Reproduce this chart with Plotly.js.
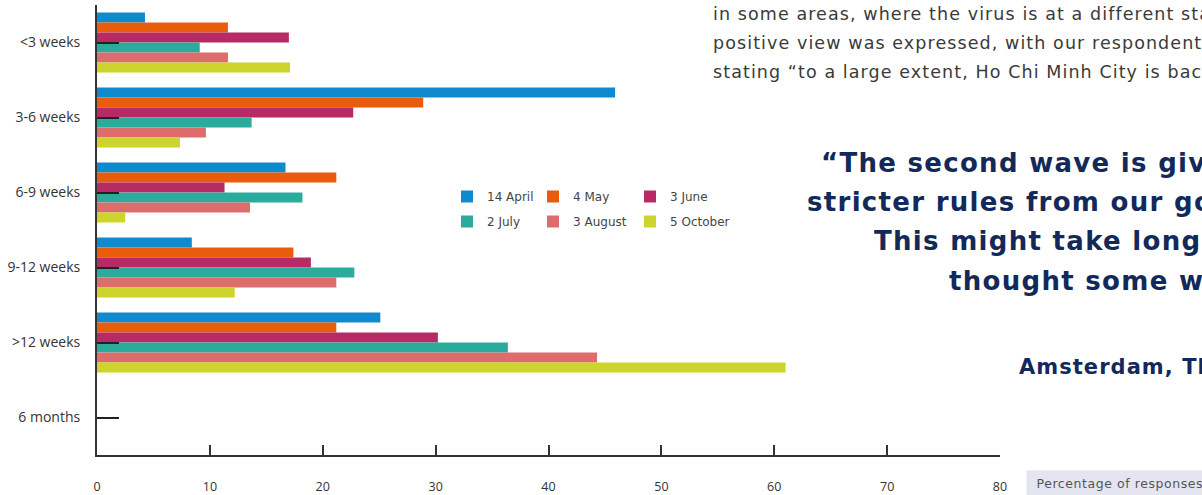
<!DOCTYPE html>
<html><head><meta charset="utf-8">
<script src="https://cdn.plot.ly/plotly-3.0.1.min.js"></script>
<style>
html,body{margin:0;padding:0;background:#fff;overflow:hidden;}
#chart{width:1202px;height:495px;}
.annotation[data-index="0"] text, .annotation[data-index="1"] text, .annotation[data-index="2"] text {letter-spacing: 0.062em;}
.annotation[data-index="3"] text, .annotation[data-index="4"] text, .annotation[data-index="5"] text, .annotation[data-index="6"] text {letter-spacing: 0.05em;}
.annotation[data-index="7"] text {letter-spacing: 0.05em;}
.annotation[data-index="8"] text {letter-spacing: 0.045em;}
</style>
</head><body><div id="chart"></div>
<script>
// Categories (top to bottom)
const categories = ['<3 weeks', '3-6 weeks', '6-9 weeks', '9-12 weeks', '>12 weeks', '6 months'];
const categoryLabels = ['&lt;3 weeks', '3-6 weeks', '6-9 weeks', '9-12 weeks', '&gt;12 weeks', '6 months'];
// Series names
const seriesNames = ['14 April', '4 May', '3 June', '2 July', '3 August', '5 October'];
// Series values (percentage of responses)
const april14 = [4.25, 45.9, 16.7, 8.4, 25.1, 0];
const may4 = [11.6, 28.9, 21.2, 17.4, 21.2, 0];
const june3 = [17.0, 22.7, 11.3, 18.95, 30.2, 0];
const july2 = [9.1, 13.7, 18.2, 22.8, 36.4, 0];
const august3 = [11.6, 9.65, 13.55, 21.2, 44.3, 0];
const october5 = [17.1, 7.35, 2.5, 12.2, 61.0, 0];
// X tick values
const xTickVals = [0, 10, 20, 30, 40, 50, 60, 70, 80];

const seriesValues = [april14, may4, june3, july2, august3, october5];
const colors = ['#0f8bcd', '#e95c0b', '#b62b65', '#2bab9c', '#dd6c6c', '#cdd42b'];
const legendIds = ['legend', 'legend2', 'legend3', 'legend', 'legend2', 'legend3'];

const FONT = 'Open Sans, Lato, sans-serif';
const WIDE = 'DejaVu Sans, Open Sans, sans-serif';
const NAVY = '#12295a';

const traces = seriesNames.map((name, i) => ({
  type: 'bar',
  orientation: 'h',
  name: name,
  y: categories,
  x: seriesValues[i],
  marker: {color: colors[i], line: {width: 0}},
  legend: legendIds[i],
  legendgroup: 'g' + i,
  hoverinfo: 'x+name'
}));

const W = 1202, H = 495, L = 97, R = 202, T = 5, B = 40;
const pw = W - L - R, ph = H - T - B;
function px(x) { return (x - L) / pw; }
function py(y) { return (H - B - y) / ph; }

function legendCfg(xpix) {
  return {
    x: px(xpix), y: py(182), xanchor: 'left', yanchor: 'top',
    orientation: 'v', bgcolor: 'rgba(0,0,0,0)', borderwidth: 0,
    font: {family: WIDE, size: 12, color: '#444'},
    traceorder: 'grouped', tracegroupgap: 6, itemclick: false, itemdoubleclick: false
  };
}

const bodyLines = [
  ['in some areas, where the virus is at a different stage, a more', 14],
  ['positive view was expressed, with our respondent in Vietnam', 43],
  ['stating “to a large extent, Ho Chi Minh City is back to normal”.', 72]
];
const quoteLines = [
  ['“The second wave is giving us', 820, 163],
  ['stricter rules from our government.', 806, 202],
  ['This might take longer than we', 873, 241],
  ['thought some weeks ago.”', 948, 281]
];

const annotations = [];
bodyLines.forEach(l => annotations.push({
  xref: 'paper', yref: 'paper', x: px(712), y: py(l[1]), xanchor: 'left', yanchor: 'middle',
  width: 800, align: 'left', borderpad: 0,
  text: l[0], showarrow: false, font: {family: WIDE, size: 17.5, color: '#3a3a3a'}
}));
quoteLines.forEach(l => annotations.push({
  xref: 'paper', yref: 'paper', x: px(l[1]), y: py(l[2]), xanchor: 'left', yanchor: 'middle',
  width: 800, align: 'left', borderpad: 0,
  text: '<b>' + l[0] + '</b>', showarrow: false, font: {family: WIDE, size: 26, color: NAVY}
}));
annotations.push({
  xref: 'paper', yref: 'paper', x: px(1018), y: py(367), xanchor: 'left', yanchor: 'middle',
  width: 600, align: 'left', borderpad: 0,
  text: '<b>Amsterdam, The Netherlands</b>', showarrow: false, font: {family: WIDE, size: 21, color: NAVY}
});
annotations.push({
  xref: 'paper', yref: 'paper', x: px(1026), y: py(483), xanchor: 'left', yanchor: 'middle',
  text: '\u00a0Percentage of responses', showarrow: false, bgcolor: '#e4e5f0', borderpad: 5,
  width: 230, align: 'left',
  font: {family: WIDE, size: 12.5, color: '#555'}
});

const layout = {
  width: W, height: H,
  margin: {l: L, r: R, t: T, b: B, pad: 0},
  paper_bgcolor: '#fff', plot_bgcolor: '#fff',
  barmode: 'group', bargap: 0.2, bargroupgap: 0,
  font: {family: FONT, color: '#333'},
  xaxis: {
    range: [0, 80], tickmode: 'array', tickvals: xTickVals,
    ticks: 'inside', ticklen: 10, tickwidth: 1.5, tickcolor: '#333',
    showline: true, linecolor: '#333', linewidth: 2,
    showgrid: false, zeroline: false, ticklabelstandoff: 19,
    tickfont: {family: FONT, size: 12.5, color: '#333'}
  },
  yaxis: {
    type: 'category', range: [5.5, -0.5],
    tickmode: 'array', tickvals: categories, ticktext: categoryLabels,
    ticks: 'inside', ticklen: 22, tickwidth: 1.5, tickcolor: '#222',
    showline: true, linecolor: '#333', linewidth: 2,
    showgrid: false, zeroline: false, ticklabelstandoff: 12,
    tickfont: {family: FONT, size: 14, color: '#333'}
  },
  showlegend: true,
  legend: legendCfg(447),
  legend2: legendCfg(533),
  legend3: legendCfg(630),
  annotations: annotations
};

Plotly.newPlot('chart', traces, layout, {displayModeBar: false});
</script>
</body></html>
